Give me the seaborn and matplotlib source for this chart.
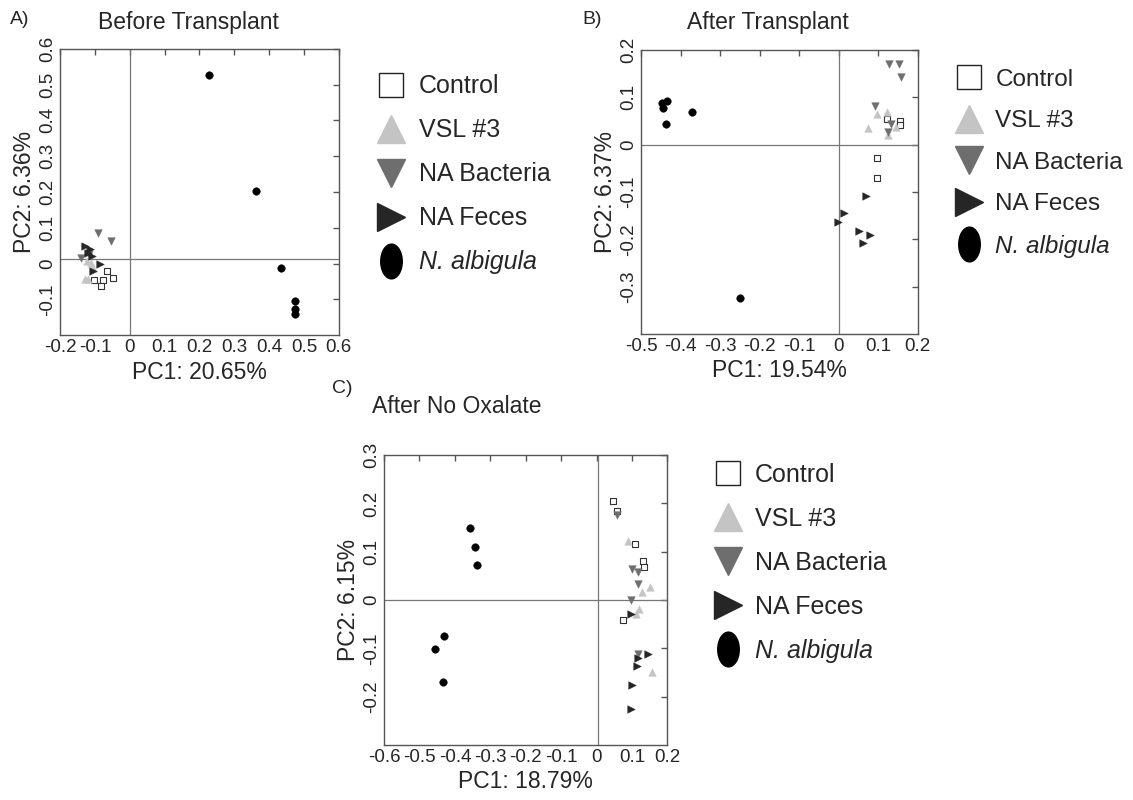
#%%
import pandas as pd
import matplotlib.pyplot as plt
import seaborn as sns
from matplotlib.lines import Line2D
from matplotlib.markers import MarkerStyle
from matplotlib.transforms import Affine2D

#%% data (PC1, PC2 per sample)
groups = ['Control', 'VSL #3', 'NA Bacteria', 'NA Feces', 'N. albigula']

# A) Before Transplant
ctrl_a_x = [-0.065, -0.047, -0.102, -0.078, -0.082]
ctrl_a_y = [-0.022, -0.040, -0.046, -0.046, -0.062]
vsl_a_x = [-0.128, -0.120, -0.123, -0.111, -0.106]
vsl_a_y = [-0.044, -0.043, 0.007, 0.002, -0.013]
bact_a_x = [-0.092, -0.053, -0.140, -0.118]
bact_a_y = [0.085, 0.062, 0.016, 0.028]
feces_a_x = [-0.128, -0.115, -0.120, -0.108, -0.084, -0.106]
feces_a_y = [0.048, 0.040, 0.030, 0.020, 0.000, -0.020]
alb_a_x = [0.228, 0.362, 0.433, 0.473, 0.473, 0.473]
alb_a_y = [0.526, 0.204, -0.011, -0.104, -0.128, -0.140]

# B) After Transplant
ctrl_b_x = [0.121, 0.154, 0.154, 0.097, 0.097]
ctrl_b_y = [0.054, 0.051, 0.041, -0.029, -0.070]
vsl_b_x = [0.073, 0.098, 0.122, 0.124, 0.146]
vsl_b_y = [0.035, 0.064, 0.068, 0.020, 0.038]
bact_b_x = [0.126, 0.152, 0.157, 0.093, 0.133, 0.124]
bact_b_y = [0.170, 0.170, 0.142, 0.082, 0.043, 0.026]
feces_b_x = [0.068, 0.013, -0.001, 0.052, 0.078, 0.062]
feces_b_y = [-0.108, -0.145, -0.163, -0.182, -0.191, -0.208]
alb_b_x = [-0.448, -0.436, -0.445, -0.437, -0.371, -0.251]
alb_b_y = [0.089, 0.092, 0.078, 0.044, 0.068, -0.324]

# C) After No Oxalate
ctrl_c_x = [0.047, 0.057, 0.110, 0.132, 0.135, 0.075]
ctrl_c_y = [0.205, 0.184, 0.117, 0.081, 0.069, -0.041]
vsl_c_x = [0.090, 0.151, 0.129, 0.121, 0.111, 0.156]
vsl_c_y = [0.122, 0.027, 0.017, -0.019, -0.029, -0.149]
bact_c_x = [0.057, 0.099, 0.118, 0.118, 0.097, 0.118]
bact_c_y = [0.177, 0.064, 0.058, 0.034, 0.000, -0.111]
feces_c_x = [0.096, 0.144, 0.116, 0.113, 0.101, 0.096]
feces_c_y = [-0.029, -0.112, -0.121, -0.136, -0.176, -0.226]
alb_c_x = [-0.358, -0.343, -0.337, -0.430, -0.455, -0.434]
alb_c_y = [0.149, 0.110, 0.072, -0.075, -0.102, -0.170]

xticks_a = [-0.2, -0.1, 0, 0.1, 0.2, 0.3, 0.4, 0.5, 0.6]
yticks_a = [-0.1, 0, 0.1, 0.2, 0.3, 0.4, 0.5, 0.6]
xticks_b = [-0.5, -0.4, -0.3, -0.2, -0.1, 0, 0.1, 0.2]
yticks_b = [-0.3, -0.2, -0.1, 0, 0.1, 0.2]
xticks_c = [-0.6, -0.5, -0.4, -0.3, -0.2, -0.1, 0, 0.1, 0.2]
yticks_c = [-0.2, -0.1, 0, 0.1, 0.2, 0.3]


def make_df(xs, ys):
    rows = []
    for g, x, y in zip(groups, xs, ys):
        rows.append(pd.DataFrame({'PC1': x, 'PC2': y, 'group': g}))
    return pd.concat(rows, ignore_index=True)


df_a = make_df([ctrl_a_x, vsl_a_x, bact_a_x, feces_a_x, alb_a_x],
               [ctrl_a_y, vsl_a_y, bact_a_y, feces_a_y, alb_a_y])
df_b = make_df([ctrl_b_x, vsl_b_x, bact_b_x, feces_b_x, alb_b_x],
               [ctrl_b_y, vsl_b_y, bact_b_y, feces_b_y, alb_b_y])
df_c = make_df([ctrl_c_x, vsl_c_x, bact_c_x, feces_c_x, alb_c_x],
               [ctrl_c_y, vsl_c_y, bact_c_y, feces_c_y, alb_c_y])

#%% style
sns.set_style('white')
plt.rcParams['font.family'] = ['Liberation Sans', 'DejaVu Sans']

markers = {'Control': 's', 'VSL #3': '^', 'NA Bacteria': 'v', 'NA Feces': '>', 'N. albigula': 'o'}
colors = {'Control': 'white', 'VSL #3': '#c4c4c4', 'NA Bacteria': '#6e6e6e',
          'NA Feces': '#262626', 'N. albigula': 'black'}
sizes = {'Control': 22, 'VSL #3': 30, 'NA Bacteria': 30, 'NA Feces': 30, 'N. albigula': 30}
frame_col = '#555555'


def draw(ax, df, xlim, ylim, xticks, yticks, hline, vline, xlab, ylab):
    ax.axhline(hline, color='#777777', lw=0.9, zorder=1)
    ax.axvline(vline, color='#777777', lw=0.9, zorder=1)
    for g in groups:
        sub = df[df['group'] == g]
        if g == 'Control':
            sns.scatterplot(data=sub, x='PC1', y='PC2', marker=markers[g], s=sizes[g],
                            color='white', edgecolor='#333333', linewidth=0.8, ax=ax, zorder=3)
        else:
            sns.scatterplot(data=sub, x='PC1', y='PC2', marker=markers[g], s=sizes[g],
                            color=colors[g], edgecolor=colors[g], linewidth=0.3, ax=ax, zorder=3)
    ax.set_xlim(xlim)
    ax.set_ylim(ylim)
    ax.set_xticks(xticks)
    ax.set_xticklabels([f'{v:g}' for v in xticks])
    ax.set_yticks(yticks)
    ax.set_yticklabels([f'{v:g}' for v in yticks], rotation=90, va='center')
    ax.tick_params(direction='in', length=4, width=1, color=frame_col,
                   top=True, right=True, labelsize=13.5, pad=3)
    for sp in ax.spines.values():
        sp.set_color(frame_col)
        sp.set_linewidth(1)
    ax.set_xlabel(xlab, fontsize=16.5, labelpad=3)
    ax.set_ylabel(ylab, fontsize=16.5, labelpad=2)


def add_legend(fig, x, y, size=18):
    handles = []
    for g in groups:
        if g == 'N. albigula':
            m = MarkerStyle('o', transform=Affine2D().scale(0.62, 1.0))
            h = Line2D([], [], marker=m, linestyle='none', markersize=25,
                       markerfacecolor='black', markeredgecolor='black')
        elif g == 'Control':
            h = Line2D([], [], marker='s', linestyle='none', markersize=17,
                       markerfacecolor='white', markeredgecolor='#222222', markeredgewidth=1)
        else:
            h = Line2D([], [], marker=markers[g], linestyle='none', markersize=20,
                       markerfacecolor=colors[g], markeredgecolor=colors[g])
        handles.append(h)
    leg = fig.legend(handles, groups, loc='upper left', bbox_to_anchor=(x, y),
                     frameon=False, fontsize=size, handlelength=1.2, handletextpad=0.5,
                     labelspacing=0.8, borderpad=0, borderaxespad=0)
    leg.get_texts()[-1].set_fontstyle('italic')
    return leg


#%% figure
fig = plt.figure(figsize=(11.33, 8), dpi=100)
ax_a = fig.add_axes([0.053, 0.581, 0.246, 0.358])
ax_b = fig.add_axes([0.566, 0.5825, 0.244, 0.355])
ax_c = fig.add_axes([0.339, 0.069, 0.250, 0.362])

draw(ax_a, df_a, (-0.2, 0.6), (-0.2, 0.6), xticks_a, yticks_a, 0.012, 0,
     'PC1: 20.65%', 'PC2: 6.36%')
draw(ax_b, df_b, (-0.5, 0.2), (-0.4, 0.2), xticks_b, yticks_b, 0, 0,
     'PC1: 19.54%', 'PC2: 6.37%')
draw(ax_c, df_c, (-0.6, 0.2), (-0.3, 0.3), xticks_c, yticks_c, 0, 0.005,
     'PC1: 18.79%', 'PC2: 6.15%')

fig.text(0.166, 0.9725, 'Before Transplant', fontsize=16.5, ha='center', va='center')
fig.text(0.678, 0.9725, 'After Transplant', fontsize=16.5, ha='center', va='center')
fig.text(0.403, 0.492, 'After No Oxalate', fontsize=16.5, ha='center', va='center')
fig.text(0.009, 0.975, 'A)', fontsize=14, ha='left', va='center')
fig.text(0.514, 0.975, 'B)', fontsize=14, ha='left', va='center')
fig.text(0.293, 0.514, 'C)', fontsize=14, ha='left', va='center')

add_legend(fig, 0.332, 0.907)
add_legend(fig, 0.842, 0.914, size=17.5)
add_legend(fig, 0.629, 0.421)

fig.savefig('out.png', dpi=100)
